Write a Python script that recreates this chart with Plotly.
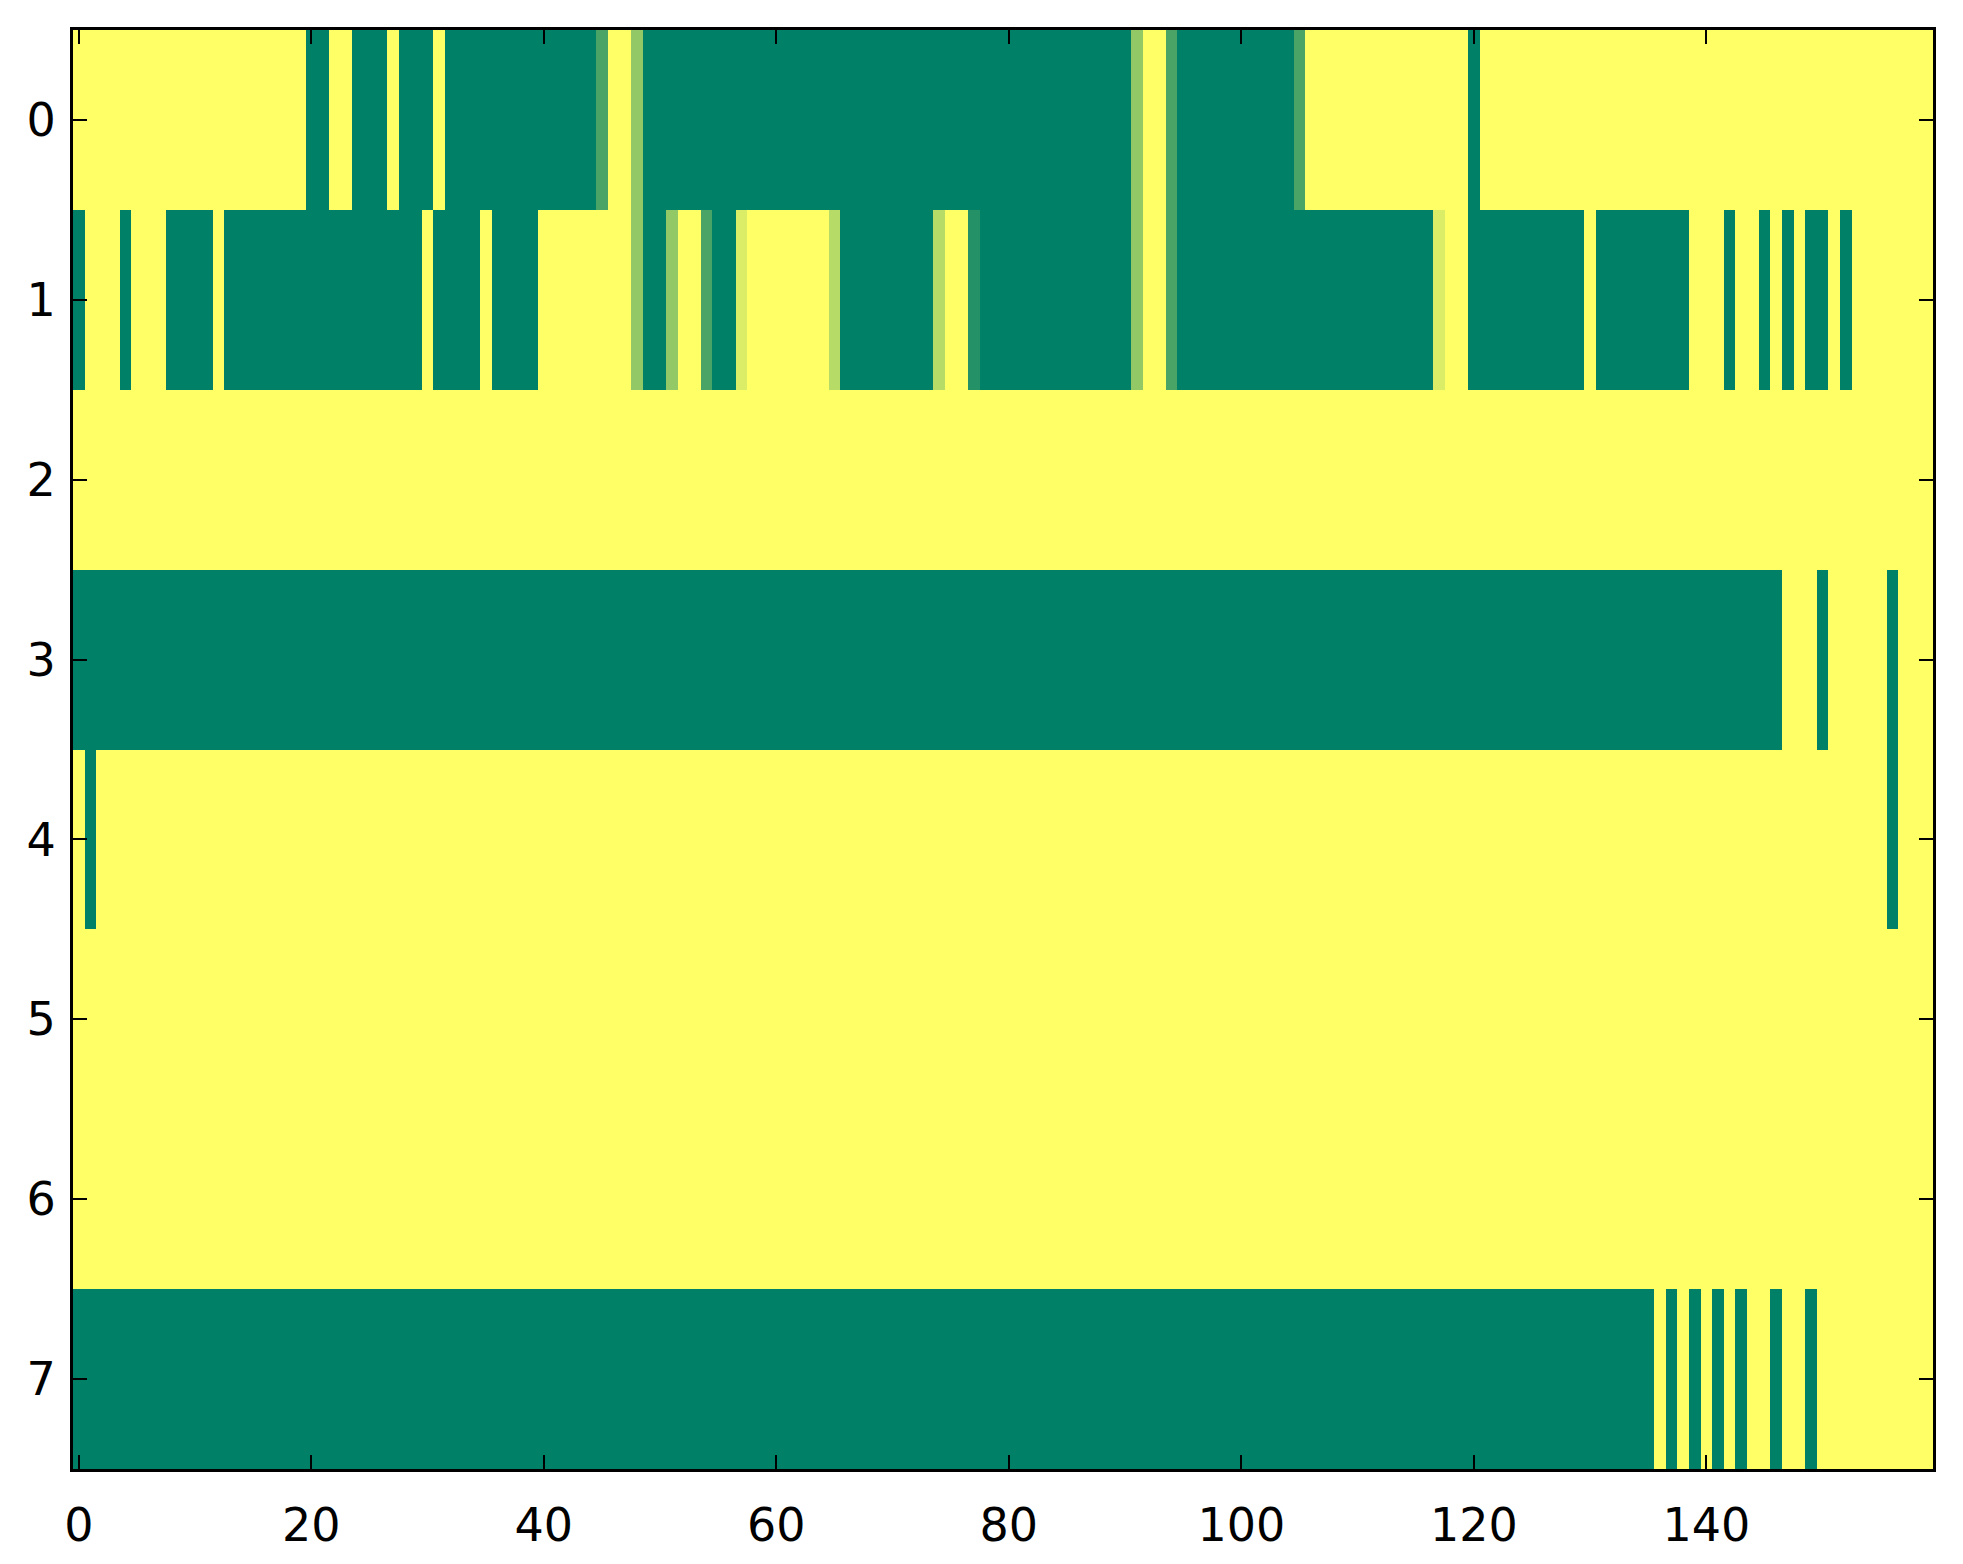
import plotly.graph_objects as go

# each row: (level, run length) read left to right, level in sevenths
# 7 = yellow end of the colormap, 0 = green end
ROW_0 = [(7, 20), (0, 2), (7, 2), (0, 3), (7, 1), (0, 3), (7, 1), (0, 13),
         (2, 1), (7, 2), (4, 1), (0, 42), (4, 1), (7, 2), (2, 1), (0, 10),
         (2, 1), (7, 14), (0, 1), (7, 39)]
ROW_1 = [(0, 1), (7, 3), (0, 1), (7, 3), (0, 4), (7, 1), (0, 17), (7, 1),
         (0, 4), (7, 1), (0, 4), (7, 8), (4, 1), (0, 2), (4, 1), (7, 2),
         (2, 1), (0, 2), (6, 1), (7, 7), (5, 1), (0, 8), (5, 1), (7, 2),
         (1, 1), (0, 13), (4, 1), (7, 2), (2, 1), (0, 22), (6, 1), (7, 2),
         (0, 10), (7, 1), (0, 8), (7, 3), (0, 1), (7, 2), (0, 1), (7, 1),
         (0, 1), (7, 1), (0, 2), (7, 1), (0, 1), (7, 7)]
ROW_2 = [(7, 160)]
ROW_3 = [(0, 147), (7, 3), (0, 1), (7, 5), (0, 1), (7, 3)]
ROW_4 = [(7, 1), (0, 1), (7, 154), (0, 1), (7, 3)]
ROW_5 = [(7, 160)]
ROW_6 = [(7, 160)]
ROW_7 = [(0, 136), (7, 1), (0, 1), (7, 1), (0, 1), (7, 1), (0, 1), (7, 1),
         (0, 1), (7, 2), (0, 1), (7, 2), (0, 1), (7, 10)]

ROWS = [ROW_0, ROW_1, ROW_2, ROW_3, ROW_4, ROW_5, ROW_6, ROW_7]
X_TICKS = [0, 20, 40, 60, 80, 100, 120, 140]
Y_TICKS = [0, 1, 2, 3, 4, 5, 6, 7]


def _expand(runs):
    out = []
    for level, n in runs:
        out.extend([level / 7] * n)
    return out


z = [_expand(r) for r in ROWS]
n_cols = len(z[0])

# matplotlib "summer": linear from (0, .5, .4) to (1, 1, .4)
summer = [[0, "rgb(0,128,102)"], [1, "rgb(255,255,102)"]]

fig = go.Figure(go.Heatmap(
    z=z,
    x=list(range(n_cols)),
    y=Y_TICKS,
    colorscale=summer,
    zmin=0, zmax=1,
    showscale=False,
    zsmooth=False,
    hoverongaps=False,
))

axis_common = dict(
    showline=True, linecolor="black", linewidth=3, mirror="allticks",
    ticks="inside", ticklen=14, tickwidth=2, tickcolor="black",
    showgrid=False, zeroline=False,
    tickfont=dict(family="DejaVu Sans", size=46, color="black"),
)

fig.update_xaxes(range=[-0.5, n_cols - 0.5], tickvals=X_TICKS,
                 ticklabelstandoff=14, **axis_common)
fig.update_yaxes(range=[len(ROWS) - 0.5, -0.5], tickvals=Y_TICKS,
                 ticklabelstandoff=5, **axis_common)

# page body keeps its default 8px margin, so the figure is 8px smaller
fig.update_layout(
    width=1955, height=1556,
    margin=dict(l=65, r=30, t=22, b=95),
    paper_bgcolor="white",
    plot_bgcolor="white",
)

fig.write_html("out.html")
